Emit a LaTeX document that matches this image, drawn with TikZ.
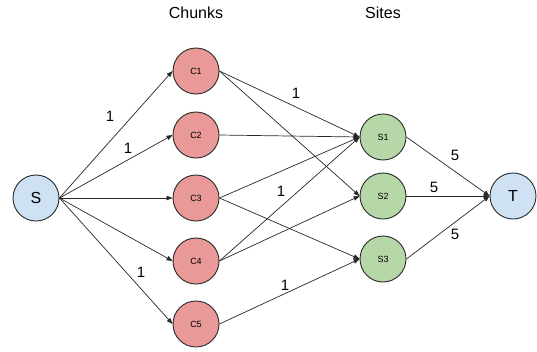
\documentclass[tikz,border=0pt]{standalone}
\usepackage{fontspec}
\setmainfont{Liberation Sans}
\usetikzlibrary{arrows.meta}
\definecolor{cred}{RGB}{234,153,153}
\definecolor{cgreen}{RGB}{182,215,168}
\definecolor{cblue}{RGB}{207,226,243}
\definecolor{cline}{RGB}{40,40,40}
\tikzset{
  vert/.style={circle,draw=cline,line width=0.9pt,minimum size=46pt,inner sep=0pt},
  chunk/.style={vert,fill=cred,font=\fontsize{9}{10}\selectfont},
  site/.style={vert,fill=cgreen,font=\fontsize{9}{10}\selectfont},
  term/.style={vert,fill=cblue,font=\fontsize{16}{18}\selectfont},
  edge/.style={draw=cline,line width=0.7pt,-{Triangle[length=6pt,width=4.5pt]}},
  lab/.style={font=\fontsize{15}{17}\selectfont},
  head/.style={font=\fontsize{16}{18}\selectfont}
}
\begin{document}
\begin{tikzpicture}[x=1pt,y=-1pt]
\useasboundingbox (0,0) rectangle (537,351);
\node[term] (S) at (36,198) {S};
\node[chunk] (C1) at (196,71) {C1};
\node[chunk] (C2) at (196,135) {C2};
\node[chunk] (C3) at (196,198) {C3};
\node[chunk] (C4) at (196,261) {C4};
\node[chunk] (C5) at (196,324) {C5};
\node[site] (S1) at (383,137) {S1};
\node[site] (S2) at (383,196) {S2};
\node[site] (S3) at (383,259) {S3};
\node[term] (T) at (513,196) {T};
\node[head] (hc) at (196,13) {Chunks};
\node[head] (hs) at (383,13) {Sites};
\foreach \c in {C1,C2,C3,C4,C5}{\draw[edge] (S.east) -- (\c.west);}
\draw[edge] (C1.east) -- (S1.west);
\draw[edge] (C1.east) -- (S2.west);
\draw[edge] (C2.east) -- (S1.west);
\draw[edge] (C3.east) -- (S1.west);
\draw[edge] (C3.east) -- (S3.west);
\draw[edge] (C4.east) -- (S1.west);
\draw[edge] (C4.east) -- (S2.west);
\draw[edge] (C5.east) -- (S3.west);
\draw[edge] (S1.east) -- (T.west);
\draw[edge] (S2.east) -- (T.west);
\draw[edge] (S3.east) -- (T.west);
\node[lab] (l1) at (110,116) {1};
\node[lab] (l2) at (128,148) {1};
\node[lab] (l3) at (141,272) {1};
\node[lab] (l4) at (296,93) {1};
\node[lab] (l5) at (281,191) {1};
\node[lab] (l6) at (285,285) {1};
\node[lab] (l7) at (455,155) {5};
\node[lab] (l8) at (434,187) {5};
\node[lab] (l9) at (455,234) {5};
\end{tikzpicture}
\end{document}
